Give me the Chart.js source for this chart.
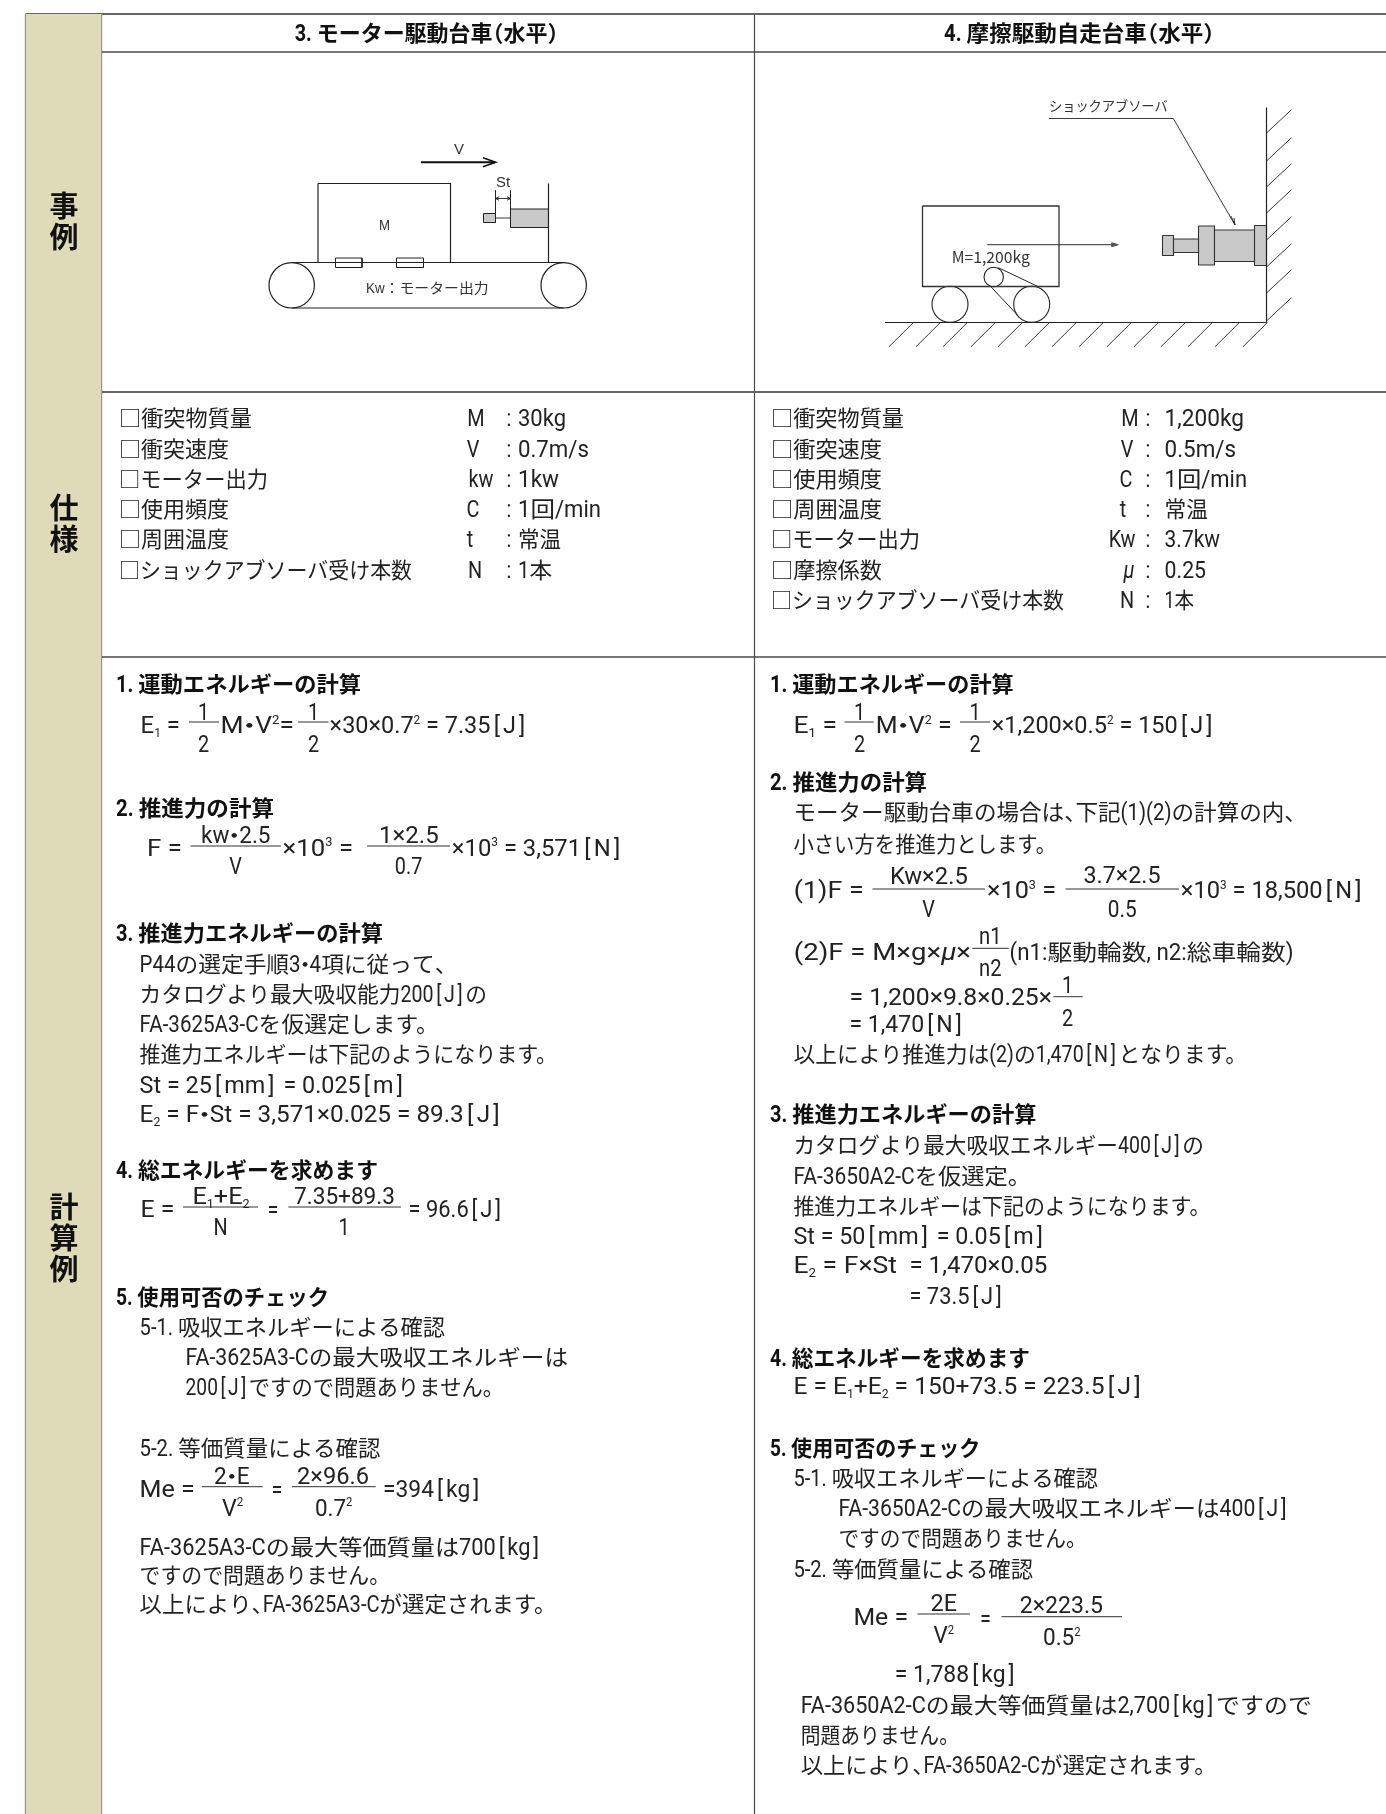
<!DOCTYPE html>
<html>
<head>
<meta charset="utf-8">
<title>FA shock absorber calculation examples</title>
<script src="https://cdn.jsdelivr.net/npm/chart.js@4/dist/chart.umd.min.js"></script>
<style>
html,body{margin:0;padding:0;background:#fff;}
canvas{display:block;}
</style>
</head>
<body>
<canvas id="sheet" width="1386" height="1814"></canvas>
<script>
// table grid
var colX = [25.5, 101.5, 754.5];
var rowY = [14, 52, 392, 657];
var titles = ['3. モーター駆動台車（水平）', '4. 摩擦駆動自走台車（水平）'];
var titlePos = [[294.7, 41, 558.4], [944, 41, 1214.5]];
var sideLabels = ['事', '例', '仕', '様', '計', '算', '例'];
var sideBase = [217, 248, 519, 550, 1218, 1249, 1280];

// spec rows
var specBase = [426, 457, 487, 517, 547, 578, 608];
var specLeftNames = ['□衝突物質量', '□衝突速度', '□モーター出力', '□使用頻度', '□周囲温度', '□ショックアブソーバ受け本数'];
var specLeftNameEnd = [252, 229, 268, 229, 229, 412];
var specLeftSymbols = ['M', 'V', 'kw', 'C', 't', 'N'];
var specLeftSymbolX = [476, 473, 481, 473, 470, 475];
var specLeftValues = ['30kg', '0.7m/s', '1kw', '1回/min', '常温', '1本'];
var specLeftValueEnd = [566, 589, 559, 601, 561, 552];
var specRightNames = ['□衝突物質量', '□衝突速度', '□使用頻度', '□周囲温度', '□モーター出力', '□摩擦係数', '□ショックアブソーバ受け本数'];
var specRightNameEnd = [904, 882, 882, 882, 920, 882, 1064];
var specRightSymbols = ['M', 'V', 'C', 't', 'Kw', '*μ', 'N'];
var specRightSymbolX = [1130, 1127, 1126, 1123, 1122, 1129, 1127];
var specRightValues = ['1,200kg', '0.5m/s', '1回/min', '常温', '3.7kw', '0.25', '1本'];
var specRightValueEnd = [1244, 1236, 1247, 1208, 1220, 1206, 1194];

// calculation text, left column
var calcLeftHeads = ['1. 運動エネルギーの計算', '2. 推進力の計算', '3. 推進力エネルギーの計算', '4. 総エネルギーを求めます', '5. 使用可否のチェック'];
var calcLeftHeadPos = [[116, 692, 361], [116, 816, 274], [116, 941, 383], [116, 1177.5, 378], [116, 1304.5, 329]];
var calcLeftText = [
  'E_1 =', '1', '2', 'M・V^2=', '1', '2', '×30×0.7^2 = 7.35[J]',
  'F =', 'kw・2.5', 'V', '×10^3 =', '1×2.5', '0.7', '×10^3 = 3,571[N]',
  'P44の選定手順3・4項に従って、', 'カタログより最大吸収能力200[J]の', 'FA-3625A3-Cを仮選定します。',
  '推進力エネルギーは下記のようになります。', 'St = 25[mm] = 0.025[m]', 'E_2 = F・St = 3,571×0.025 = 89.3[J]',
  'E =', 'E_1+E_2', 'N', '=', '7.35+89.3', '1', '= 96.6[J]',
  '5-1. 吸収エネルギーによる確認', 'FA-3625A3-Cの最大吸収エネルギーは', '200[J]ですので問題ありません。', '5-2. 等価質量による確認',
  'Me =', '2・E', 'V^2', '=', '2×96.6', '0.7^2', '=394[kg]',
  'FA-3625A3-Cの最大等価質量は700[kg]', 'ですので問題ありません。', '以上により、FA-3625A3-Cが選定されます。'
];
var calcLeftPos = [
  [140.6, 733, 180], [203.6, 720], [203.6, 751.7], [220.5, 733, 294], [313.6, 720], [313.6, 751.7], [329.6, 733, 528.4],
  [147, 855.7, 182], [201, 842.7, 270.5], [235.6, 874], [282.6, 855.7, 353], [379, 842.7, 438.7], [408.6, 874], [451.8, 855.7, 623.4],
  [139.6, 971.5, 446], [139.6, 1002, 487], [139.6, 1032, 438.7],
  [139.6, 1062, 557], [139.6, 1092.5, 406], [139.6, 1122, 503],
  [140.6, 1216.7, 174.5], [192.4, 1204, 249.6], [220.5, 1235], [273, 1218], [294, 1204, 395], [344, 1235], [408.6, 1216.7, 504],
  [139.6, 1335, 445], [185.6, 1365, 568], [185.6, 1394.5, 504], [139.6, 1456, 380.5],
  [139.6, 1496.7, 194.9], [214, 1484, 249.6], [222, 1515.7, 243.3], [277, 1498], [297, 1484, 369], [315, 1515.7, 352.4], [383, 1496.7, 482.3],
  [139.6, 1554.5, 542], [139.6, 1582.5, 390], [139.6, 1612, 556.5]
];
var fracLeft = [[189, 219, 722], [298, 328.6, 722], [190.5, 281, 846], [367, 450, 846], [183, 258, 1207], [288.4, 400.9, 1207], [202, 262.7, 1486.7], [292, 375.7, 1486.7]];

// calculation text, right column
var calcRightHeads = ['1. 運動エネルギーの計算', '2. 推進力の計算', '3. 推進力エネルギーの計算', '4. 総エネルギーを求めます', '5. 使用可否のチェック'];
var calcRightHeadPos = [[770, 692, 1013.7], [770, 790, 927], [770, 1122, 1036.4], [770, 1365.5, 1030], [770, 1456, 980.4]];
var calcRightText = [
  'E_1 =', '1', '2', 'M・V^2 =', '1', '2', '×1,200×0.5^2 = 150[J]',
  'モーター駆動台車の場合は、下記(1)(2)の計算の内、', '小さい方を推進力とします。',
  '(1)F =', 'Kw×2.5', 'V', '×10^3 =', '3.7×2.5', '0.5', '×10^3 = 18,500[N]',
  '(2)F = M×g×*μ×', 'n1', 'n2', '(n1:駆動輪数, n2:総車輪数)',
  '= 1,200×9.8×0.25×', '1', '2', '= 1,470[N]', '以上により推進力は(2)の1,470[N]となります。',
  'カタログより最大吸収エネルギー400[J]の', 'FA-3650A2-Cを仮選定。', '推進力エネルギーは下記のようになります。',
  'St = 50[mm] = 0.05[m]', 'E_2 = F×St', '= 1,470×0.05', '= 73.5[J]',
  'E = E_1+E_2 = 150+73.5 = 223.5[J]',
  '5-1. 吸収エネルギーによる確認', 'FA-3650A2-Cの最大吸収エネルギーは400[J]', 'ですので問題ありません。', '5-2. 等価質量による確認',
  'Me =', '2E', 'V^2', '=', '2×223.5', '0.5^2', '= 1,788[kg]',
  'FA-3650A2-Cの最大等価質量は2,700[kg]ですので', '問題ありません。', '以上により、FA-3650A2-Cが選定されます。'
];
var calcRightPos = [
  [793.4, 733, 837], [859.5, 720], [859.5, 751.7], [875.8, 733, 951.6], [975, 720], [975, 751.7], [991.8, 733, 1215.7],
  [793.4, 820, 1295.6], [793.4, 851.5, 1056],
  [793.8, 898, 863.6], [890, 884, 967.8], [928.5, 916.7], [987, 898, 1056], [1083.5, 882.7, 1160.5], [1107.8, 916.7, 1136.6], [1180.8, 898, 1364.6],
  [793.8, 960, 971], [979, 944, 1001.5], [979, 976, 1001.5], [1009.6, 960, 1293.6],
  [849.4, 1005, 1052], [1067.6, 993], [1067.6, 1025.7], [849.4, 1031.7, 965], [793.4, 1061.5, 1247],
  [793.4, 1153, 1204], [793.4, 1183.5, 1031], [793.4, 1213.5, 1210.4],
  [793.4, 1244, 1046], [793.4, 1273.3, 897], [909.4, 1273.3, 1047.4], [909.4, 1304, 1004.8],
  [793.4, 1394.3, 1144],
  [793.4, 1486, 1098], [838.4, 1516, 1289.5], [838.4, 1546, 1086.7], [793.4, 1576.5, 1033],
  [853.4, 1625, 908], [930.5, 1610.7, 957], [933.4, 1643, 954], [985.5, 1627], [1019.8, 1613, 1103], [1043, 1645, 1080.6], [894.8, 1681.7, 1017.7],
  [800.7, 1712.5, 1311.9], [800.7, 1743, 958.9], [800.7, 1773, 1216.5]
];
var fracRight = [[844.5, 873.7, 722], [960, 990, 722], [872.5, 985, 889], [1065.6, 1179, 889], [972.3, 1008.8, 948.3], [1053.4, 1082.7, 996.7], [917.5, 970, 1614], [1001.5, 1122, 1616.7]];

// diagram labels
var diagramText = ['V', 'St', 'M', 'Kw：モーター出力', 'ショックアブソーバ', 'M=1,200kg'];
var diagramPos = [[454, 154, 464], [496, 186.5, 510], [379, 229.5, 390], [366, 292.5, 488.7], [1049, 110.5, 1167.7], [951.7, 263, 1030]];

// diagram 3: motor driven cart, polylines in sheet units
var cartBoxL = [[318, 183.5], [450.5, 183.5], [450.5, 262.5], [318, 262.5], [318, 183.5]];
var padA = [[335.5, 258], [362, 258], [362, 267.5], [335.5, 267.5], [335.5, 258]];
var padB = [[396.5, 258], [423.5, 258], [423.5, 267.5], [396.5, 267.5], [396.5, 258]];
var beltTop = [[291.7, 262.5], [563.7, 262.5]];
var beltBottom = [[291.7, 308], [563.7, 308]];
var stopWall = [[548.5, 183.5], [548.5, 262.5]];
var bodyL = [[510.5, 209], [548.5, 209], [548.5, 227.5], [510.5, 227.5], [510.5, 209]];
var headL = [[483.5, 213.5], [495.5, 213.5], [495.5, 222.5], [483.5, 222.5], [483.5, 213.5]];
var rodL = [[495.5, 218], [510.5, 218]];
var stLeft = [[495.5, 190.5], [495.5, 213.5]];
var stRight = [[510.5, 190.5], [510.5, 209]];
var stArrow = [[495.5, 198.5], [510.5, 198.5]];
var stHeadA = [[499, 196.8], [495.5, 198.5], [499, 200.2]];
var stHeadB = [[507, 196.8], [510.5, 198.5], [507, 200.2]];
var speedArrow = [[421, 162.3], [495, 162.3]];
var speedHead = [[483, 157.7], [495.7, 162.3], [483, 166.7]];
var rollersL = [[291.7, 285.3], [563.7, 285.3]];
var rollerRadiusL = 22.7;

// diagram 4: friction driven cart
var wall = [[1266.5, 107.5], [1266.5, 322.5]];
var ground = [[885, 322.5], [1266.5, 322.5]];
var groundHatchX = [889, 916, 943, 971, 998, 1025, 1052, 1079, 1107, 1134, 1161, 1188, 1215, 1243];
var wallHatchY = [133, 161, 187, 213, 240, 267, 293, 321];
var cartBoxR = [[922.5, 206], [1059, 206], [1059, 286.5], [922.5, 286.5], [922.5, 206]];
var leader = [[1049, 118.5], [1173.3, 118.5], [1235, 225]];
var leaderHead = [[1231, 216], [1235, 225], [1234, 218]];
var moveArrow = [[987.3, 244.7], [1114, 244.7]];
var moveHead = [[1111.7, 242.8], [1118.3, 244.7], [1111.7, 246.7], [1111.7, 242.8]];
var beltA = [[998.3, 267.7], [1038.3, 286.7]];
var beltB = [[989.3, 285], [1019, 316.7]];
var wheelsR = [[950, 304.3], [1031.7, 304.3]];
var wheelRadiusR = 18;
var pulley = [[993.7, 277]];
var pulleyRadius = 9.7;
var absorberParts = [
  [[1173.5, 239], [1198.5, 239], [1198.5, 252.5], [1173.5, 252.5], [1173.5, 239]],
  [[1162.5, 235.5], [1173.5, 235.5], [1173.5, 255.5], [1162.5, 255.5], [1162.5, 235.5]],
  [[1214.5, 230], [1254.5, 230], [1254.5, 261.5], [1214.5, 261.5], [1214.5, 230]],
  [[1198.5, 226], [1214.5, 226], [1214.5, 265], [1198.5, 265], [1198.5, 226]],
  [[1254.5, 225.5], [1266.5, 225.5], [1266.5, 265.5], [1254.5, 265.5], [1254.5, 225.5]]
];

var ink = '#222222';
var rule = '#4a4a4a';
var ruleHeavy = '#666666';
var sideFill = '#dfdbb9';
var partFill = '#c8c9c8';

var bodyFont = 'Roboto, "Noto Sans CJK JP", sans-serif';
var cjkFont = '"Noto Sans CJK JP", sans-serif';
var diagramFont = '"Liberation Sans", "Noto Sans CJK JP", sans-serif';

function toPoints(list) {
  return list.map(function (p) { return { x: p[0], y: p[1] }; });
}
function path(list, color, width, fillColor) {
  return {
    data: toPoints(list),
    showLine: true,
    pointRadius: 0,
    borderColor: color,
    borderWidth: width,
    backgroundColor: fillColor || 'transparent',
    fill: fillColor ? 'shape' : false,
    tension: 0
  };
}
function circles(list, radius, color, width) {
  return {
    data: toPoints(list),
    showLine: false,
    pointStyle: 'circle',
    pointRadius: radius,
    pointBorderColor: color,
    pointBorderWidth: width,
    pointBackgroundColor: '#ffffff'
  };
}

var datasets = [];

// side column fill first so the rules sit on top
datasets.push(path([[colX[0], rowY[0]], [colX[1], rowY[0]], [colX[1], 1814], [colX[0], 1814], [colX[0], rowY[0]]], 'transparent', 0, sideFill));

rowY.forEach(function (y, i) {
  var heavy = (i == 0 || i == 2);
  datasets.push(path([[colX[0], y], [1386, y]], heavy ? ruleHeavy : rule, heavy ? 2 : 1.5));
});
colX.forEach(function (x) {
  datasets.push(path([[x, rowY[0]], [x, 1814]], rule, 1.2));
});
fracLeft.concat(fracRight).forEach(function (f) {
  datasets.push(path([[f[0], f[2]], [f[1], f[2]]], '#333333', 1));
});

// diagram 3
datasets.push(path(cartBoxL, ink, 1.2));
datasets.push(path(beltTop, ink, 1.2));
datasets.push(path(beltBottom, ink, 1.2));
datasets.push(circles(rollersL, rollerRadiusL, ink, 1.2));
datasets.push(path(padA, ink, 1));
datasets.push(path(padB, ink, 1));
datasets.push(path(stopWall, ink, 1.2));
datasets.push(path(bodyL, ink, 1, partFill));
datasets.push(path(headL, ink, 1, partFill));
[rodL, stLeft, stRight, stArrow, stHeadA, stHeadB].forEach(function (p) {
  datasets.push(path(p, ink, 0.9));
});
datasets.push(path(speedArrow, '#111111', 2));
datasets.push(path(speedHead, '#111111', 1.6));

// diagram 4
datasets.push(path(wall, ink, 1.2));
datasets.push(path(ground, ink, 1.2));
groundHatchX.forEach(function (x) {
  datasets.push(path([[x, 346.7], [x + 24.4, 322.5]], ink, 0.9));
});
wallHatchY.forEach(function (y) {
  datasets.push(path([[1266.5, y], [1291.5, y - 23.3]], ink, 0.9));
});
datasets.push(path(cartBoxR, '#333333', 1.3));
datasets.push(path(leader, ink, 0.9));
datasets.push(path(leaderHead, ink, 0.9));
datasets.push(path(moveArrow, '#555555', 1.3));
datasets.push(path(moveHead, '#555555', 1, '#555555'));
datasets.push(circles(wheelsR, wheelRadiusR, ink, 1.1));
datasets.push(circles(pulley, pulleyRadius, ink, 1.1));
datasets.push(path(beltA, ink, 1));
datasets.push(path(beltB, ink, 1));
absorberParts.forEach(function (p) {
  datasets.push(path(p, '#333333', 1.1, partFill));
});

// splits a string into runs: ^x superscript, _x subscript, *x italic,
// the full width marks the reference sets tight, square brackets, then latin vs cjk
function richRuns(text) {
  var parts = text.split(/([\^_*].|[・、（）\[\]])/);
  var runs = [];
  parts.forEach(function (p) {
    if (p == '') return;
    var c = p.charAt(0);
    if (p.length == 2 && (c == '^' || c == '_' || c == '*')) runs.push({ t: p.charAt(1), k: c });
    else if ('・、（）[]'.indexOf(p) >= 0) runs.push({ t: p, k: p });
    else {
      p.split(/([\u0020-\u02ff]+)/).forEach(function (q) {
        if (q == '') return;
        runs.push({ t: q, k: /^[\u0020-\u02ff]/.test(q) ? 'latin' : '' });
      });
    }
  });
  return runs;
}
function isLatin(run) {
  return run.k == 'latin' || run.k == '[' || run.k == ']' || run.k == '^' || run.k == '_' || run.k == '*';
}
function runFont(run, size, bold, family) {
  var s = size;
  if (run.k == '^' || run.k == '_') s = size * 0.55;
  else if (isLatin(run)) s = size * 1.1;
  return (run.k == '*' ? 'italic ' : '') + (bold ? '700 ' : '400 ') + s + 'px ' + family;
}
function putText(ctx, chart, text, x, base, right, size, bold, family, color) {
  var sx = chart.scales.x, sy = chart.scales.y;
  var runs = richRuns(text);
  var total = 0;
  runs.forEach(function (r) {
    ctx.font = runFont(r, size, bold, family);
    r.sx = isLatin(r) ? 0.82 : 1;
    r.w = ctx.measureText(r.t).width * r.sx;
    r.off = 0;
    if (r.k == '・') { r.off = -r.w * 0.3; r.w = r.w * 0.4; }
    if (r.k == '、' || r.k == '）') { r.w = r.w * 0.5; }
    if (r.k == '（') { r.off = -r.w * 0.5; r.w = r.w * 0.5; }
    if (r.k == '[' || r.k == ']') { r.off = size * 0.12; r.w = r.w + size * 0.24; }
    total += r.w;
  });
  var left = sx.getPixelForValue(x);
  var scale = 1;
  if (right != null) scale = (sx.getPixelForValue(right) - left) / total;
  else left = left - total / 2;
  ctx.save();
  ctx.translate(left, sy.getPixelForValue(base));
  ctx.scale(scale, 1);
  ctx.fillStyle = color || ink;
  ctx.textBaseline = 'alphabetic';
  ctx.textAlign = 'left';
  var pen = 0;
  runs.forEach(function (r) {
    var dy = r.k == '^' ? -size * 0.42 : (r.k == '_' ? size * 0.16 : 0);
    ctx.font = runFont(r, size, bold, family);
    ctx.save();
    ctx.translate(pen + r.off, dy);
    ctx.scale(r.sx, 1);
    ctx.fillText(r.t, 0, 0);
    ctx.restore();
    pen += r.w;
  });
  ctx.restore();
}

var textPlugin = {
  id: 'sheetText',
  afterDatasetsDraw: function (chart) {
    var ctx = chart.ctx;
    var i;
    for (i = 0; i < titles.length; i++) {
      putText(ctx, chart, titles[i], titlePos[i][0], titlePos[i][1], titlePos[i][2], 22, true, bodyFont, '#111111');
    }
    for (i = 0; i < sideLabels.length; i++) {
      putText(ctx, chart, sideLabels[i], 64, sideBase[i], null, 29, true, cjkFont, '#111111');
    }
    for (i = 0; i < specLeftNames.length; i++) {
      putText(ctx, chart, specLeftNames[i], 119, specBase[i], specLeftNameEnd[i], 22, false, bodyFont);
      putText(ctx, chart, specLeftSymbols[i], specLeftSymbolX[i], specBase[i], null, 22, false, bodyFont);
      putText(ctx, chart, ':', 509, specBase[i], null, 22, false, bodyFont);
      putText(ctx, chart, specLeftValues[i], 518, specBase[i], specLeftValueEnd[i], 22, false, bodyFont);
    }
    for (i = 0; i < specRightNames.length; i++) {
      putText(ctx, chart, specRightNames[i], 771, specBase[i], specRightNameEnd[i], 22, false, bodyFont);
      putText(ctx, chart, specRightSymbols[i], specRightSymbolX[i], specBase[i], null, 22, false, bodyFont);
      putText(ctx, chart, ':', 1148, specBase[i], null, 22, false, bodyFont);
      putText(ctx, chart, specRightValues[i], 1164.6, specBase[i], specRightValueEnd[i], 22, false, bodyFont);
    }
    [[calcLeftHeads, calcLeftHeadPos], [calcRightHeads, calcRightHeadPos]].forEach(function (g) {
      g[0].forEach(function (t, k) {
        putText(ctx, chart, t, g[1][k][0], g[1][k][1], g[1][k][2], 22, true, bodyFont, '#111111');
      });
    });
    [[calcLeftText, calcLeftPos], [calcRightText, calcRightPos]].forEach(function (g) {
      g[0].forEach(function (t, k) {
        putText(ctx, chart, t, g[1][k][0], g[1][k][1], g[1][k][2], 22, false, bodyFont);
      });
    });
    diagramText.forEach(function (t, k) {
      var p = diagramPos[k];
      putText(ctx, chart, t, p[0], p[1], p[2], 14, false, k > 3 ? cjkFont : diagramFont, '#333333');
    });
  }
};

new Chart(document.getElementById('sheet'), {
  type: 'scatter',
  data: { datasets: datasets },
  options: {
    responsive: false,
    animation: false,
    layout: { padding: 0, autoPadding: false },
    events: [],
    scales: {
      x: { type: 'linear', display: false, min: 0, max: 1386 },
      y: { type: 'linear', display: false, min: 0, max: 1814, reverse: true }
    },
    plugins: {
      legend: { display: false },
      tooltip: { enabled: false },
      title: { display: false }
    }
  },
  plugins: [textPlugin]
});
</script>
</body>
</html>
